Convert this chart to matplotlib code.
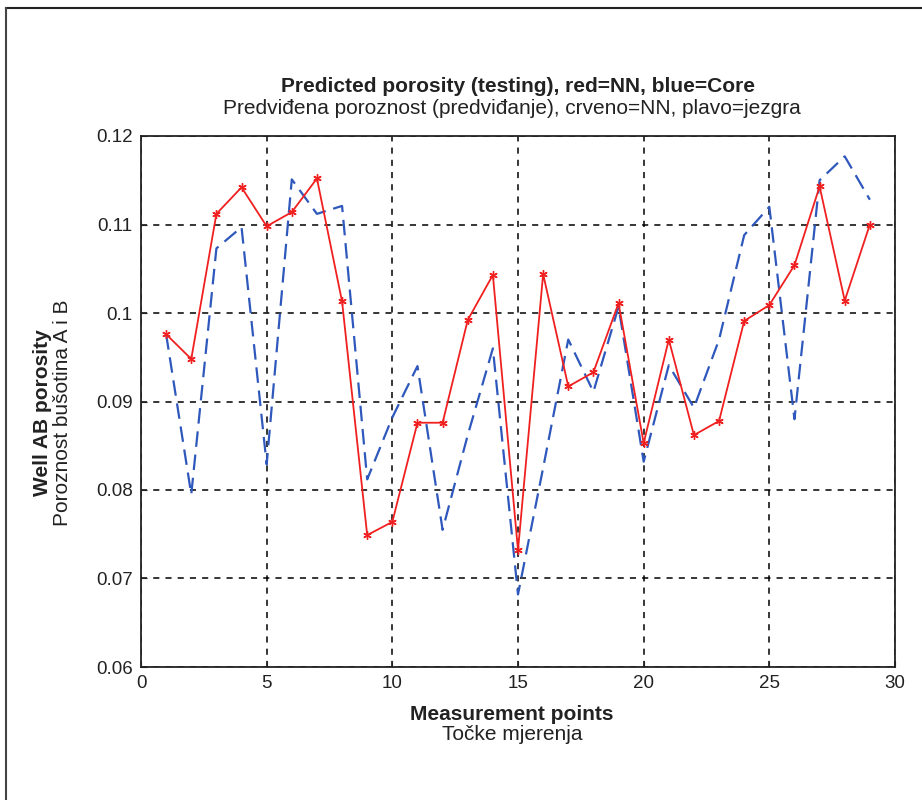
import matplotlib
matplotlib.use("Agg")
import matplotlib.pyplot as plt
from matplotlib.lines import Line2D

points = list(range(1, 30))
nn_pred = [0.0976, 0.0948, 0.1112, 0.1142, 0.1098, 0.1114, 0.1152, 0.1013, 0.0749, 0.0764,
           0.0876, 0.0876, 0.0992, 0.1043, 0.0732, 0.1044, 0.0917, 0.0933, 0.1011, 0.0853,
           0.0970, 0.0862, 0.0878, 0.0991, 0.1009, 0.1054, 0.1143, 0.1014, 0.1100]
core = [0.0976, 0.0795, 0.1073, 0.1097, 0.0829, 0.1151, 0.1112, 0.1121, 0.0812, 0.0882,
        0.0940, 0.0755, 0.0862, 0.0960, 0.0682, 0.0825, 0.0970, 0.0911, 0.1007, 0.0832,
        0.0941, 0.0893, 0.0970, 0.1088, 0.1120, 0.0880, 0.1150, 0.1177, 0.1128]
xticks = [0, 5, 10, 15, 20, 25, 30]
yticks = [0.06, 0.07, 0.08, 0.09, 0.10, 0.11, 0.12]
ytick_labels = ["0.06", "0.07", "0.08", "0.09", "0.1", "0.11", "0.12"]

plt.rcParams['font.family'] = ['Liberation Sans', 'DejaVu Sans']

fig = plt.figure(figsize=(9.22, 8.0), dpi=100)
ax = fig.add_axes([141/922, 1-667/800, (895-141)/922, (667-136)/800])

ax.plot(points, core, color='#2f58bc', lw=1.6, dashes=(7, 3.5), zorder=3)
ax.plot(points, nn_pred, color='#f02020', lw=1.3, marker=(6, 2, 0), ms=6,
        mew=1.0, zorder=4)

ax.set_xlim(0, 30)
ax.set_ylim(0.06, 0.12)
ax.set_xticks(xticks)
ax.set_yticks(yticks)
ax.set_yticklabels(ytick_labels)
ax.tick_params(direction='in', length=4, labelsize=13.5, colors='#222222', pad=6)
ax.grid(True, color='black', linestyle=(0, (4, 4)), lw=1.1)
for s in ax.spines.values():
    s.set_color('#222222')
    s.set_linewidth(1.3)

fs = 15
fig.text(518/922, 1-87/800, "Predicted porosity (testing), red=NN, blue=Core",
         ha='center', va='center', fontsize=fs, fontweight='bold', color='#222222')
fig.text(512/922, 1-108/800, "Predviđena poroznost (predviđanje), crveno=NN, plavo=jezgra",
         ha='center', va='center', fontsize=fs, color='#222222')

fig.text(512/922, 1-715/800, "Measurement points", ha='center', va='center',
         fontsize=fs, fontweight='bold', color='#222222')
fig.text(512/922, 1-734/800, "Točke mjerenja", ha='center', va='center',
         fontsize=fs, color='#222222')

fig.text(43/922, 1-413/800, "Well AB porosity", ha='center', va='center', rotation=90,
         fontsize=fs, fontweight='bold', color='#222222')
fig.text(63/922, 1-413/800, "Poroznost bušotina A i B", ha='center', va='center', rotation=90,
         fontsize=fs, color='#222222')

fig.add_artist(Line2D([6/922, 1.0], [1-8/800, 1-8/800], color='#222222', lw=1.5,
                      transform=fig.transFigure))
fig.add_artist(Line2D([6/922, 6/922], [0.0, 1-8/800], color='#444444', lw=1.5,
                      transform=fig.transFigure))

fig.savefig("out.png", dpi=100)
